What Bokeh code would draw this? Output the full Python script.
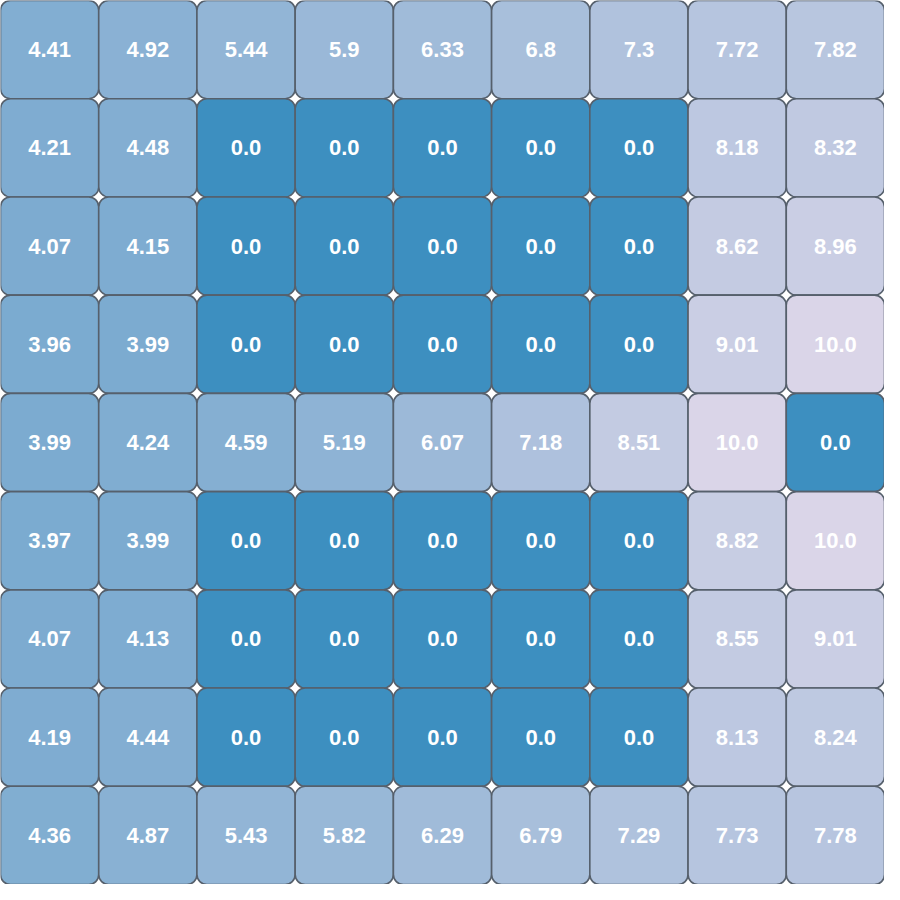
from bokeh.plotting import figure
from bokeh.models import ColumnDataSource
from bokeh.core.properties import value
from bokeh.embed import file_html
from bokeh.resources import INLINE

rows = ["r0", "r1", "r2", "r3", "r4", "r5", "r6", "r7", "r8"]
cols = ["c0", "c1", "c2", "c3", "c4", "c5", "c6", "c7", "c8"]

row0 = [4.41, 4.92, 5.44, 5.9, 6.33, 6.8, 7.3, 7.72, 7.82]
row1 = [4.21, 4.48, 0.0, 0.0, 0.0, 0.0, 0.0, 8.18, 8.32]
row2 = [4.07, 4.15, 0.0, 0.0, 0.0, 0.0, 0.0, 8.62, 8.96]
row3 = [3.96, 3.99, 0.0, 0.0, 0.0, 0.0, 0.0, 9.01, 10.0]
row4 = [3.99, 4.24, 4.59, 5.19, 6.07, 7.18, 8.51, 10.0, 0.0]
row5 = [3.97, 3.99, 0.0, 0.0, 0.0, 0.0, 0.0, 8.82, 10.0]
row6 = [4.07, 4.13, 0.0, 0.0, 0.0, 0.0, 0.0, 8.55, 9.01]
row7 = [4.19, 4.44, 0.0, 0.0, 0.0, 0.0, 0.0, 8.13, 8.24]
row8 = [4.36, 4.87, 5.43, 5.82, 6.29, 6.79, 7.29, 7.73, 7.78]
grid = [row0, row1, row2, row3, row4, row5, row6, row7, row8]

vmin, vmax = 0.0, 10.0
c_lo = (61, 143, 192)
c_hi = (218, 213, 232)


def color_for(v):
    t = (v - vmin) / (vmax - vmin)
    t = max(0.0, min(1.0, t))
    r, g, b = (round(a + (b_ - a) * t) for a, b_ in zip(c_lo, c_hi))
    return "#%02x%02x%02x" % (r, g, b)


xs, ys, vals, labels, colors = [], [], [], [], []
for ri, row in enumerate(grid):
    for ci, v in enumerate(row):
        xs.append(cols[ci])
        ys.append(rows[ri])
        vals.append(v)
        labels.append(str(v))
        colors.append(color_for(v))

src = ColumnDataSource(dict(x=xs, y=ys, v=vals, label=labels, color=colors))

p = figure(width=884, height=884, x_range=cols, y_range=list(reversed(rows)),
           output_backend="svg", toolbar_location=None, min_border=0)
p.axis.visible = False
p.grid.visible = False
p.outline_line_color = None
p.background_fill_color = "white"
p.border_fill_color = "white"
p.x_range.range_padding = 0
p.y_range.range_padding = 0

p.rect(x="x", y="y", width=1, height=1, source=src, fill_color="color",
       line_color="#56606c", line_width=1.6, border_radius=10)
p.text(x="x", y="y", text="label", source=src, text_color="white",
       text_font=value("Liberation Sans"), text_font_style="bold",
       text_font_size="22px", text_align="center", text_baseline="middle")

open("out.html", "w").write(file_html(p, INLINE))
